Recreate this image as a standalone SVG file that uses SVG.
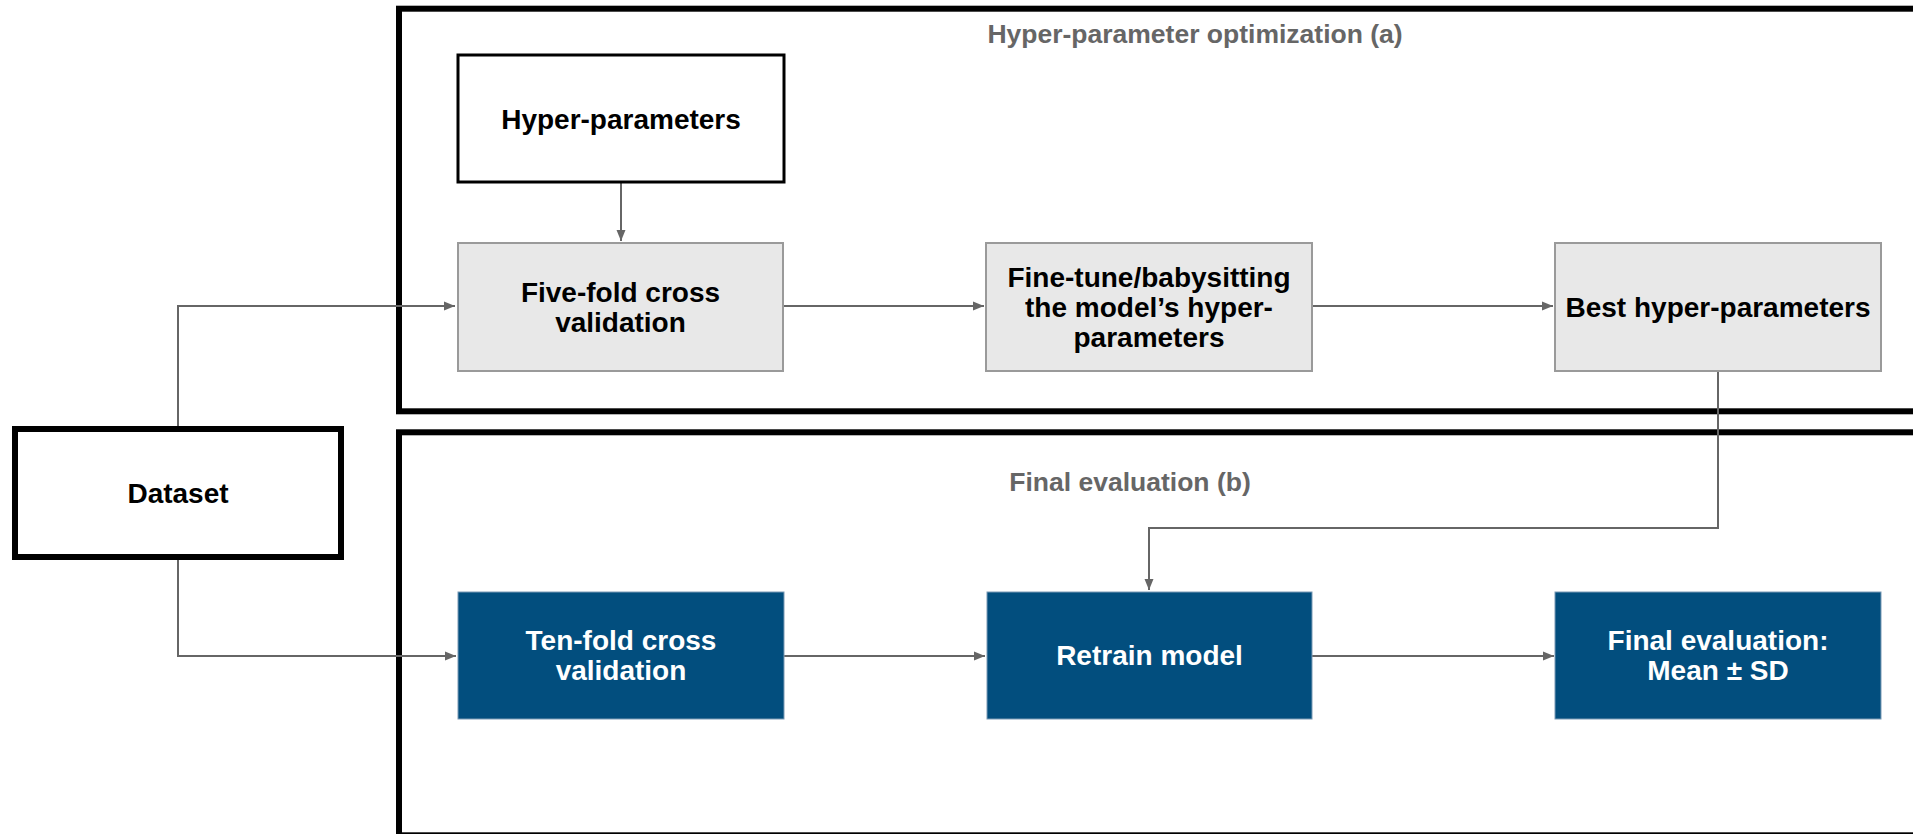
<svg xmlns="http://www.w3.org/2000/svg" width="1913" height="834" viewBox="0 0 1913 834">
<style>
  text { font-family: "Liberation Sans", Arial, Helvetica, sans-serif; font-weight: bold; text-anchor: middle; }
  .lbl { font-size: 28px; fill: #000; }
  .wlbl { font-size: 28px; fill: #fff; }
  .title { font-size: 26.5px; fill: #666; }
  .group { fill: none; stroke: #000; stroke-width: 6; }
  .gray { fill: #e8e8e8; stroke: #9a9a9a; stroke-width: 2; }
  .blue { fill: #024e7e; stroke: #7a9ab5; stroke-width: 1; }
  .conn { fill: none; stroke: #666; stroke-width: 2; }
</style>
<defs>
  <marker id="arrow" markerUnits="userSpaceOnUse" markerWidth="12" markerHeight="10" refX="11" refY="5" orient="auto">
    <path d="M0,0.5 L11,5 L0,9.5 z" fill="#666"/>
  </marker>
</defs>
<rect width="1913" height="834" fill="#fff"/>

<g id="group-a">
  <rect class="group" x="399" y="8.7" width="1600" height="402.6"/>
  <text class="title" x="1195" y="43">Hyper-parameter optimization (a)</text>
</g>
<g id="group-b">
  <rect class="group" x="399" y="432.3" width="1600" height="403"/>
  <text class="title" x="1130" y="491">Final evaluation (b)</text>
</g>

<g id="connectors">
  <path class="conn" d="M178,426 V306 H455" marker-end="url(#arrow)"/>
  <path class="conn" d="M178,560 V656 H456" marker-end="url(#arrow)"/>
  <path class="conn" d="M621,183 V241" marker-end="url(#arrow)"/>
  <path class="conn" d="M783,306 H984" marker-end="url(#arrow)"/>
  <path class="conn" d="M1312,306 H1553" marker-end="url(#arrow)"/>
  <path class="conn" d="M1718,371 V528 H1149 V590" marker-end="url(#arrow)"/>
  <path class="conn" d="M784,656 H985" marker-end="url(#arrow)"/>
  <path class="conn" d="M1312,656 H1554" marker-end="url(#arrow)"/>
</g>

<g id="dataset">
  <rect x="15" y="429" width="326" height="128" fill="#fff" stroke="#000" stroke-width="6"/>
  <text class="lbl" x="178" y="503">Dataset</text>
</g>
<g id="hyper-parameters">
  <rect x="458" y="55" width="326" height="127" fill="#fff" stroke="#000" stroke-width="3"/>
  <text class="lbl" x="621" y="129">Hyper-parameters</text>
</g>
<g id="five-fold">
  <rect class="gray" x="458" y="243" width="325" height="128"/>
  <text class="lbl" x="620.5" y="302">Five-fold cross</text>
  <text class="lbl" x="620.5" y="332">validation</text>
</g>
<g id="fine-tune">
  <rect class="gray" x="986" y="243" width="326" height="128"/>
  <text class="lbl" x="1149" y="287">Fine-tune/babysitting</text>
  <text class="lbl" x="1149" y="317">the model’s hyper-</text>
  <text class="lbl" x="1149" y="347">parameters</text>
</g>
<g id="best">
  <rect class="gray" x="1555" y="243" width="326" height="128"/>
  <text class="lbl" x="1718" y="317">Best hyper-parameters</text>
</g>
<g id="ten-fold">
  <rect class="blue" x="458" y="592" width="326" height="127"/>
  <text class="wlbl" x="621" y="650">Ten-fold cross</text>
  <text class="wlbl" x="621" y="680">validation</text>
</g>
<g id="retrain">
  <rect class="blue" x="987" y="592" width="325" height="127"/>
  <text class="wlbl" x="1149.5" y="665">Retrain model</text>
</g>
<g id="final-evaluation">
  <rect class="blue" x="1555" y="592" width="326" height="127"/>
  <text class="wlbl" x="1718" y="650">Final evaluation:</text>
  <text class="wlbl" x="1718" y="680">Mean ± SD</text>
</g>
</svg>
